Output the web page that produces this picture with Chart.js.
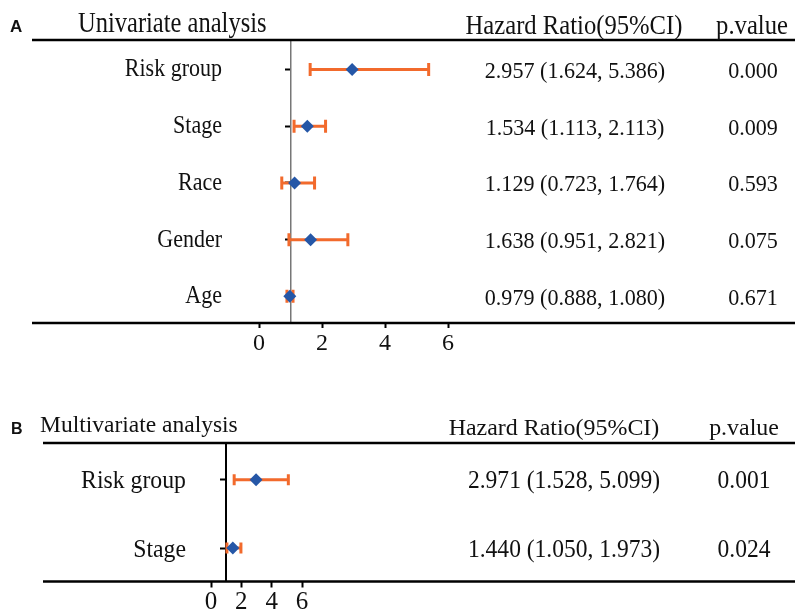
<!DOCTYPE html>
<html>
<head>
<meta charset="utf-8">
<script src="https://cdn.jsdelivr.net/npm/chart.js@4"></script>
<style>
  body { margin: 0; background: #fff; }
  .panel { position: absolute; left: 0; width: 795px; }
</style>
</head>
<body>
<div class="panel" style="top:0;height:370px"><canvas id="chartA"></canvas></div>
<div class="panel" style="top:370px;height:243px"><canvas id="chartB"></canvas></div>
<script>
// Univariate analysis
const varsA = ['Risk group', 'Stage', 'Race', 'Gender', 'Age'];
const hrA = [2.957, 1.534, 1.129, 1.638, 0.979];
const loA = [1.624, 1.113, 0.723, 0.951, 0.888];
const hiA = [5.386, 2.113, 1.764, 2.821, 1.080];
const pA = ['0.000', '0.009', '0.593', '0.075', '0.671'];

// Multivariate analysis
const varsB = ['Risk group', 'Stage'];
const hrB = [2.971, 1.440];
const loB = [1.528, 1.050];
const hiB = [5.099, 1.973];
const pB = ['0.001', '0.024'];

const xTicks = [0, 2, 4, 6];

const ORANGE = '#F26A2C';
const BLUE = '#2557A7';
const SERIF = "'Liberation Serif', 'Times New Roman', serif";

function hrText(h, l, u) {
  return h.toFixed(3) + ' (' + l.toFixed(3) + ', ' + u.toFixed(3) + ')';
}

// text squeezed a bit sideways like the original figure
function txt(ctx, s, x, y, font, align, sx) {
  ctx.save();
  ctx.translate(x, y);
  ctx.scale(sx, 1);
  ctx.font = font;
  ctx.textAlign = align;
  ctx.textBaseline = 'alphabetic';
  ctx.fillStyle = '#111';
  ctx.fillText(s, 0, 0);
  ctx.restore();
}

function forest(id, d, L) {
  const errorBars = {
    id: 'errorBars',
    beforeDatasetsDraw(chart) {
      const { ctx, scales: { x, y } } = chart;
      ctx.save();
      ctx.strokeStyle = ORANGE;
      ctx.lineWidth = 3;
      d.hr.forEach((h, i) => {
        const py = y.getPixelForValue(i);
        const x1 = x.getPixelForValue(d.lo[i]);
        const x2 = x.getPixelForValue(d.hi[i]);
        ctx.beginPath();
        ctx.moveTo(x1, py); ctx.lineTo(x2, py);
        ctx.moveTo(x1, py - L.cap); ctx.lineTo(x1, py + L.cap);
        ctx.moveTo(x2, py - L.cap); ctx.lineTo(x2, py + L.cap);
        ctx.stroke();
      });
      ctx.restore();
    }
  };

  const table = {
    id: 'table',
    afterDraw(chart) {
      const { ctx, chartArea: a, scales: { y } } = chart;
      ctx.save();
      ctx.strokeStyle = '#000';
      ctx.lineWidth = 2.5;
      [a.top, a.bottom].forEach(v => {
        ctx.beginPath();
        ctx.moveTo(L.ruleLeft, v);
        ctx.lineTo(chart.width, v);
        ctx.stroke();
      });
      ctx.restore();

      txt(ctx, d.letter, L.letterX, L.letterY, 'bold ' + L.letterSize + "px 'Liberation Sans', Arial, sans-serif", 'left', 1);
      txt(ctx, d.title, L.titleX, L.titleY, L.titleSize + 'px ' + SERIF, 'left', L.titleSx);
      txt(ctx, 'Hazard Ratio(95%CI)', L.hrHeadX, L.headY, L.headSize + 'px ' + SERIF, 'center', L.headSx);
      txt(ctx, 'p.value', L.pHeadX, L.headY, L.headSize + 'px ' + SERIF, 'center', L.headSx);

      d.vars.forEach((name, i) => {
        const py = y.getPixelForValue(i);
        txt(ctx, name, L.catRight, py + L.catDy, L.catSize + 'px ' + SERIF, 'right', L.catSx);
        txt(ctx, hrText(d.hr[i], d.lo[i], d.hi[i]), L.hrX, py + L.valDy, L.valSize + 'px ' + SERIF, 'center', L.valSx);
        txt(ctx, d.p[i], L.pX, py + L.valDy, L.valSize + 'px ' + SERIF, 'center', L.valSx);
      });
    }
  };

  return new Chart(document.getElementById(id), {
    type: 'scatter',
    data: {
      datasets: [{
        data: d.hr.map((h, i) => ({ x: h, y: i })),
        pointStyle: 'rectRot',
        pointRadius: L.marker,
        pointHoverRadius: L.marker,
        backgroundColor: BLUE,
        borderWidth: 0
      }]
    },
    options: {
      responsive: true,
      maintainAspectRatio: false,
      animation: false,
      events: [],
      layout: { padding: L.pad },
      plugins: { legend: { display: false }, tooltip: { enabled: false } },
      scales: {
        x: {
          type: 'linear',
          position: 'bottom',
          min: 0,
          max: 6,
          afterBuildTicks: s => { s.ticks = xTicks.map(v => ({ value: v })); },
          afterFit: s => { s.height = L.axisH; },
          grid: { drawOnChartArea: false, drawTicks: true, tickLength: L.tickLen, tickColor: '#000', tickWidth: 2 },
          border: { display: false },
          ticks: { color: '#111', padding: L.tickPad, font: { family: SERIF, size: L.tickFont } }
        },
        y: {
          type: 'linear',
          position: { x: 1 },
          reverse: true,
          min: L.yMin,
          max: L.yMax,
          afterBuildTicks: s => { s.ticks = d.vars.map((v, i) => ({ value: i })); },
          ticks: { display: false },
          grid: { drawOnChartArea: false, drawTicks: true, tickLength: 5, tickColor: '#000', tickWidth: 2 },
          border: { color: L.axisColor, width: L.axisWidth }
        }
      }
    },
    plugins: [errorBars, table]
  });
}

forest('chartA',
  { letter: 'A', title: 'Univariate analysis', vars: varsA, hr: hrA, lo: loA, hi: hiA, p: pA },
  {
    pad: { left: 259, right: 347, top: 40, bottom: 17 }, axisH: 30,
    tickLen: 5, tickPad: 1, tickFont: 24, yMin: -0.52, yMax: 4.47,
    axisColor: '#777', axisWidth: 1.5, marker: 6.5, cap: 6.5, ruleLeft: 32,
    letterX: 10, letterY: 32, letterSize: 17,
    titleX: 78, titleY: 32, titleSize: 28.5, titleSx: 0.86,
    headY: 34, headSize: 28, headSx: 0.88, hrHeadX: 574, pHeadX: 752,
    catRight: 222, catSize: 25, catSx: 0.88, catDy: 7,
    hrX: 575, pX: 753, valSize: 23.5, valSx: 0.94, valDy: 8.5
  });

forest('chartB',
  { letter: 'B', title: 'Multivariate analysis', vars: varsB, hr: hrB, lo: loB, hi: hiB, p: pB },
  {
    pad: { left: 211, right: 493, top: 73, bottom: 3.5 }, axisH: 28,
    tickLen: 6, tickPad: 0, tickFont: 25, yMin: -0.54, yMax: 1.49,
    axisColor: '#000', axisWidth: 2, marker: 6.5, cap: 5.5, ruleLeft: 43,
    letterX: 11, letterY: 64, letterSize: 16,
    titleX: 40, titleY: 62, titleSize: 23.5, titleSx: 1,
    headY: 65, headSize: 23, headSx: 1.04, hrHeadX: 554, pHeadX: 744,
    catRight: 186, catSize: 24.5, catSx: 0.97, catDy: 8.5,
    hrX: 564, pX: 744, valSize: 24.5, valSx: 0.96, valDy: 8.5
  });
</script>
</body>
</html>
